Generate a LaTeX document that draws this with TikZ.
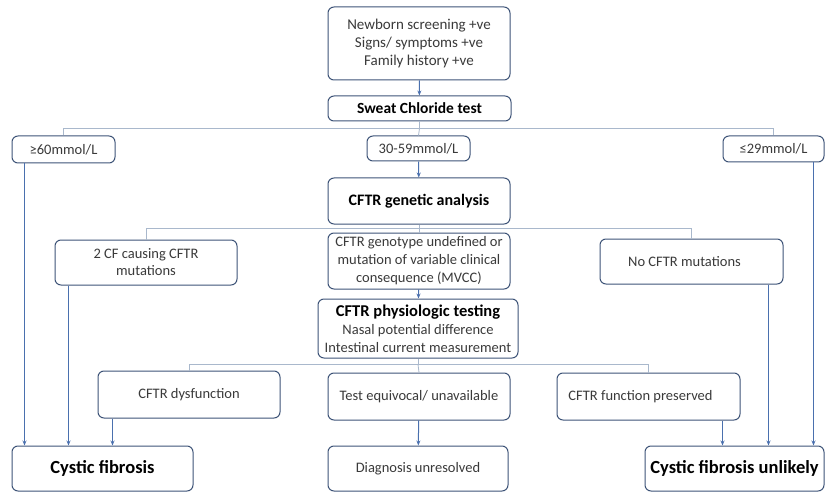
\documentclass[tikz,border=0pt]{standalone}
\usepackage{fontspec}
\setmainfont{Carlito}
\usetikzlibrary{arrows.meta}
\definecolor{boxline}{HTML}{3E5478}
\definecolor{arrowline}{HTML}{4A70AE}
\definecolor{branchline}{HTML}{A9B8CC}
\definecolor{txt}{HTML}{3A3A3A}
\begin{document}
\begin{tikzpicture}[x=1pt,y=-1pt,
    box/.style={draw=boxline,line width=1pt,rounded corners=6pt,align=center,
      text=txt,font=\fontsize{14.5}{17}\selectfont,inner sep=0pt},
    bigbox/.style={box,text=black,font=\bfseries\fontsize{16}{18}\selectfont},
    endbox/.style={box,text=black,font=\bfseries\fontsize{18.5}{20}\selectfont},
    arr/.style={draw=arrowline,line width=1pt,-{Stealth[length=5pt,width=4pt]}},
    branch/.style={draw=branchline,line width=0.8pt}]
      \fill[white] (0,0) rectangle (825,492);
      \useasboundingbox (0,0) rectangle (825,492);

      \node[box,minimum width=182pt,minimum height=73pt,font=\fontsize{15}{18}\selectfont] (start) at (419,43.5)
        {Newborn screening +ve\\Signs/ symptoms +ve\\Family history +ve};
      \node[bigbox,minimum width=183pt,minimum height=25pt,font=\bfseries\fontsize{15.5}{18}\selectfont] (sweat) at (419.5,108.5) {Sweat Chloride test};

      \node[box,minimum width=103pt,minimum height=27pt] (high) at (63.5,149.5) {≥60mmol/L};
      \node[box,minimum width=103pt,minimum height=25pt] (middle) at (418.5,148.5) {30-59mmol/L};
      \node[box,minimum width=101pt,minimum height=26pt] (low) at (773.5,149) {≤29mmol/L};

      \node[bigbox,minimum width=182pt,minimum height=46pt] (genetic) at (419,201) {CFTR genetic analysis};

      \node[box,minimum width=182pt,minimum height=45pt] (twocf) at (146,262.5) {2 CF causing CFTR\\mutations};
      \node[box,minimum width=182pt,minimum height=56pt,font=\fontsize{14.5}{18}\selectfont] (undefined) at (419,261)
        {CFTR genotype undefined or\\mutation of variable clinical\\consequence (MVCC)};
      \node[box,minimum width=183pt,minimum height=45pt] (nomut) at (691.5,261.5) {\hspace{-14pt}No CFTR mutations};

      \node[box,minimum width=200pt,minimum height=59pt,font=\fontsize{14.5}{18}\selectfont] (physio) at (418,328.5)
        {{\bfseries\fontsize{16.5}{18}\selectfont\color{black}CFTR physiologic testing}\\Nasal potential difference\\Intestinal current measurement};

      \node[box,minimum width=182pt,minimum height=47pt] (dysf) at (189,394.5) {CFTR dysfunction};
      \node[box,minimum width=182pt,minimum height=47pt] (equiv) at (419,396.5) {Test equivocal/ unavailable};
      \node[box,minimum width=183pt,minimum height=47pt] (kept) at (648.5,396.5) {\hspace{-16pt}CFTR function preserved};

      \node[endbox,minimum width=181pt,minimum height=45pt] (cf) at (102.5,468.5) {Cystic fibrosis};
      \node[box,minimum width=180pt,minimum height=45pt] (unresolved) at (418,468.5) {Diagnosis unresolved};
      \node[endbox,minimum width=179pt,minimum height=45pt] (unlikely) at (734.5,468.5) {Cystic fibrosis unlikely};

      \draw[arr] (start) -- (sweat);
      \draw[branch] (sweat.south) -- ++(0,7) coordinate (sp1);
      \draw[branch] (high.north) |- (sp1) -| (low.north);
      \draw[branch] (sp1) -- (middle.north);
      \draw[arr] (middle) -- (genetic);

      \draw[branch] (genetic.south) -- ++(0,4) coordinate (sp2);
      \draw[branch] (twocf.north) |- (sp2) -| (nomut.north);
      \draw[branch] (sp2) -- (undefined.north);
      \draw[arr] (undefined) -- (physio);

      \draw[branch] (physio.south) -- ++(0,6) coordinate (sp3);
      \draw[branch] (dysf.north) |- (sp3) -| (kept.north);
      \draw[branch] (sp3) -- (equiv.north);
      \draw[arr] (equiv) -- (unresolved);

      \draw[arr] ([xshift=13pt]high.south west) -- ([xshift=13pt]high.south west |- cf.north);
      \draw[arr] ([xshift=14pt]twocf.south west) -- ([xshift=14pt]twocf.south west |- cf.north);
      \draw[arr] ([xshift=15pt]dysf.south west) -- ([xshift=15pt]dysf.south west |- cf.north);
      \draw[arr] ([xshift=-11pt]low.south east) -- ([xshift=-11pt]low.south east |- unlikely.north);
      \draw[arr] ([xshift=-15pt]nomut.south east) -- ([xshift=-15pt]nomut.south east |- unlikely.north);
      \draw[arr] ([xshift=-18pt]kept.south east) -- ([xshift=-18pt]kept.south east |- unlikely.north);
\end{tikzpicture}
\end{document}
